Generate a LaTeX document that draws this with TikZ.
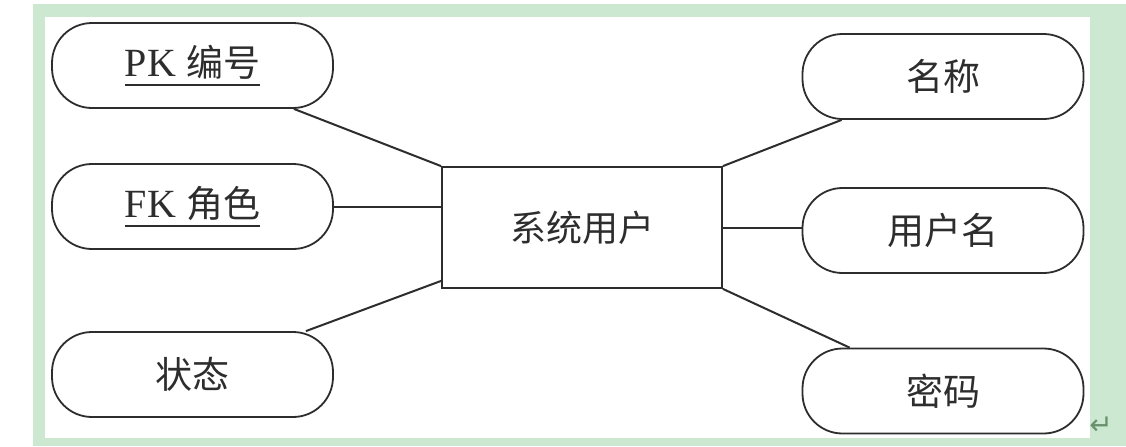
\documentclass[tikz,border=0pt]{standalone}
\usepackage{fontspec}
\setmainfont{Liberation Serif}
\newfontfamily\cjk{Noto Sans CJK SC}
\newfontfamily\symfont{DejaVu Sans}
\usepackage{tikz}
\definecolor{framegreen}{RGB}{204,232,208}
\definecolor{linegray}{RGB}{45,45,45}
\definecolor{markgreen}{RGB}{105,145,110}
% key attribute: text with a thick rule below it
\newcommand\keyline[1]{\setbox0\hbox{#1}\rlap{\raisebox{-4.5pt}{\rule{\wd0}{0.9pt}}}\box0}

\begin{document}
\begin{tikzpicture}[x=0.5pt,y=-0.5pt,
    attr/.style={draw=linegray,line width=0.9pt,rounded corners=20pt,minimum width=140.5pt,minimum height=42.5pt,inner sep=0pt,text=linegray,font=\fontsize{18.5}{22}\selectfont},
    entity/.style={draw=linegray,line width=0.9pt,minimum width=140pt,minimum height=60.5pt,inner sep=0pt,text=linegray,font=\fontsize{18}{22}\selectfont\cjk},
    link/.style={draw=linegray,line width=1pt}]
\useasboundingbox (0,0) rectangle (1126,446);
\fill[framegreen] (33,4) rectangle (1126,446);
\fill[white] (45,17) rectangle (1090,438);

\draw
    node at(582,227.5)[entity,name=user]{系统用户}

    node at(192.5,65.5)[attr,name=pk]{\keyline{\fontsize{20}{22}\selectfont PK \cjk\fontsize{18.5}{22}\selectfont 编号}}
    node at(192.5,206.5)[attr,name=fk]{\keyline{\fontsize{20}{22}\selectfont FK \cjk\fontsize{18.5}{22}\selectfont 角色}}
    node at(192.5,374.5)[attr,name=state]{\cjk 状态}

    node at(943,76.5)[attr,name=title]{\cjk 名称}
    node at(943,230.5)[attr,name=uname]{\cjk 用户名}
    node at(943,391)[attr,name=pwd]{\cjk 密码}

    node at(1101,426)[text=markgreen,font=\fontsize{14}{16}\selectfont\symfont,name=ret]{↵}
;

    \draw[link]([xshift=-20pt]pk.south east) -- (user.north west);
    \draw[link](fk.east) -- (fk.east -| user.west);
    \draw[link]([xshift=-14pt]state.north east) -- ([yshift=4pt]user.south west);

    \draw[link](user.north east) -- ([xshift=20pt]title.south west);
    \draw[link](user.east) -- (user.east -| uname.west);
    \draw[link](user.south east) -- ([xshift=24pt]pwd.north west);
\end{tikzpicture}
\end{document}
